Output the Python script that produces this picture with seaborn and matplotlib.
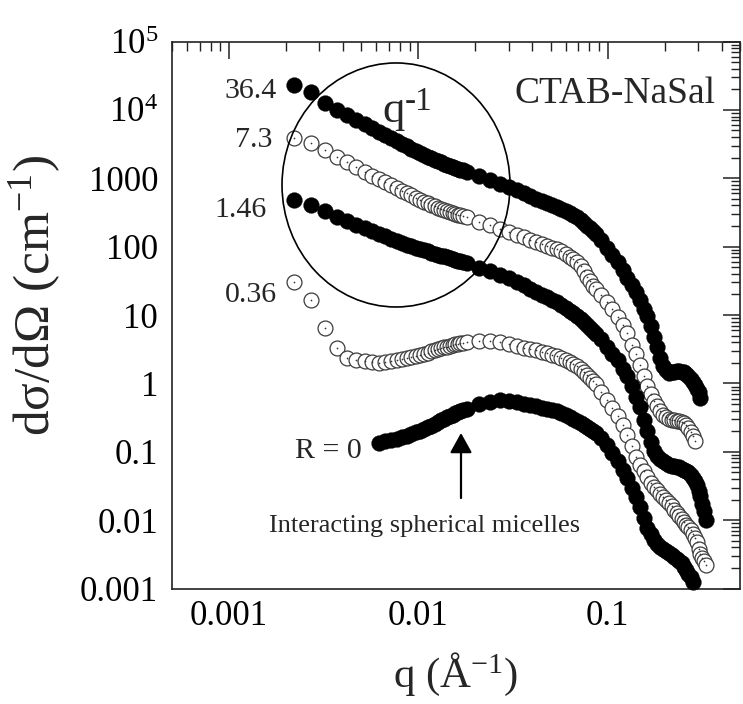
import numpy as np
import pandas as pd
import matplotlib
matplotlib.use("Agg")
import matplotlib.pyplot as plt
import seaborn as sns
from matplotlib.patches import Ellipse
from matplotlib.ticker import LogLocator, FixedLocator, FixedFormatter, NullFormatter

# ---------------- data ----------------
q_low = [0.0022, 0.0027, 0.0032, 0.0037, 0.0042, 0.0047, 0.0052, 0.0057, 0.0062, 0.0067,
         0.0072, 0.0077, 0.0082, 0.0087, 0.0092, 0.0097, 0.0102, 0.0107, 0.0112, 0.0117,
         0.0122, 0.0127, 0.0132, 0.0137, 0.0142, 0.0147, 0.0152, 0.0157, 0.0162, 0.0167, 0.0172]
q_mid = [0.018, 0.021, 0.024, 0.027, 0.030, 0.033, 0.036, 0.039, 0.042, 0.045, 0.048, 0.051,
         0.054, 0.057, 0.060, 0.063, 0.066, 0.069, 0.072, 0.075, 0.078, 0.081, 0.084, 0.087]
q_high = [0.092, 0.099, 0.106, 0.113, 0.120, 0.127, 0.134, 0.141, 0.148, 0.155, 0.162, 0.169,
          0.176, 0.183, 0.190, 0.197, 0.204, 0.211, 0.218, 0.225, 0.232, 0.239, 0.246, 0.253,
          0.260, 0.267, 0.274, 0.281, 0.288, 0.295, 0.302, 0.309, 0.316, 0.323, 0.330]

# R = 36.4 (filled)
i_364 = [23500, 18300, 12800, 10100, 8280, 7030, 6120, 5350, 4750, 4300, 3880, 3510, 3210, 2950,
         2720, 2520, 2330, 2190, 2080, 1970, 1870, 1780, 1700, 1630, 1560, 1500, 1450, 1410, 1370,
         1330, 1300,
         1245, 1080, 944, 834, 749, 674, 602, 547, 500, 463, 430, 402, 377, 352, 327, 306, 287, 270,
         248, 224, 203, 185, 169, 154,
         127, 96.7, 75.6, 60.2, 45.9, 35.1, 27.3, 21.5, 16.5, 12.3, 9.54, 6.84, 4.77, 3.36, 2.39,
         1.80, 1.58, 1.42, 1.45, 1.47, 1.50, 1.52, 1.49, 1.45, 1.38, 1.29, 1.16, 1.05, 0.935, 0.831,
         0.739, 0.614]
# R = 7.3 (open)
i_73 = [3830, 3280, 2550, 2050, 1720, 1470, 1245, 1095, 967, 868, 785, 717, 657, 606, 560, 520,
        485, 453, 428, 407, 388, 372, 357, 343, 330, 319, 310, 302, 294, 287, 280,
        269, 230, 205, 179, 162, 148, 136, 125, 117, 110, 102, 96.4, 91.3, 85.1, 76.9, 70.7, 65.0,
        59.7, 52.2, 43.4, 36.4, 30.9, 26.9, 23.7,
        19.7, 15.3, 12.2, 9.44, 7.21, 5.38, 3.59, 2.65, 1.86, 1.30, 0.919, 0.693, 0.555, 0.469,
        0.396, 0.346, 0.318, 0.298, 0.293, 0.288, 0.283, 0.283, 0.274, 0.265, 0.247, 0.224, 0.195,
        0.171, 0.144]
# R = 1.46 (filled)
i_146 = [477, 407, 328, 275, 238, 209, 187, 169, 154, 142, 131, 122, 114, 107, 102, 96.4, 91.9,
         88.3, 85.1, 82.0, 79.3, 76.6, 74.1, 71.9, 69.8, 67.9, 65.9, 64.1, 62.6, 61.0, 59.6,
         57.2, 49.5, 43.5, 38.7, 35.0, 30.8, 27.2, 24.3, 22.0, 19.9, 18.3, 16.8, 15.5, 14.1, 12.8,
         11.6, 10.6, 9.73, 8.80, 7.85, 7.05, 6.35, 5.74, 5.21,
         4.40, 3.41, 2.70, 2.18, 1.64, 1.29, 0.916, 0.635, 0.447, 0.289, 0.199, 0.137, 0.103,
         0.0862, 0.0777, 0.0724, 0.0677, 0.0641, 0.0628, 0.0618, 0.0608, 0.0592, 0.0568, 0.0547,
         0.0528, 0.0508, 0.0458, 0.0415, 0.0378, 0.0326, 0.0269, 0.0222, 0.0175, 0.0138, 0.0101]
# R = 0.36 (open)
i_036 = [30.1, 16.6, 6.48, 3.30, 2.36, 2.21, 2.09, 2.03, 1.99, 2.05, 2.12, 2.21, 2.28, 2.36, 2.42,
         2.52, 2.63, 2.73, 2.82, 2.95, 3.06, 3.16, 3.25, 3.35, 3.45, 3.55, 3.63, 3.72, 3.79, 3.87,
         3.92,
         3.98, 4.14, 4.15, 4.07, 3.78, 3.50, 3.30, 3.16, 3.03, 2.90, 2.75, 2.61, 2.48, 2.34, 2.17,
         2.03, 1.90, 1.79, 1.64, 1.47, 1.33, 1.21, 1.10, 0.983,
         0.759, 0.564, 0.433, 0.336, 0.247, 0.177, 0.122, 0.0834, 0.0645, 0.0521, 0.0427, 0.0352,
         0.0308, 0.0273, 0.0243, 0.0218, 0.0196, 0.0177, 0.0160, 0.0142, 0.0128, 0.0114, 0.0103,
         0.00938, 0.00854, 0.00782, 0.00712, 0.00626, 0.00553, 0.00483, 0.00374, 0.00323,
         0.00280, 0.00251, 0.00222]
# R = 0 (filled), starts at q = 0.0062
i_0 = [0.1345, 0.1419, 0.1493, 0.1560, 0.1640, 0.1725, 0.1809, 0.1915, 0.2034, 0.2154, 0.2282,
       0.2408, 0.2549, 0.2718, 0.2869, 0.3027, 0.3173, 0.3337, 0.3486, 0.3642, 0.3767, 0.3896,
       0.4030,
       0.4238, 0.498, 0.540, 0.568, 0.551, 0.526, 0.501, 0.480, 0.461, 0.441, 0.422, 0.404, 0.388,
       0.367, 0.340, 0.318, 0.299, 0.281, 0.263, 0.244, 0.227, 0.213, 0.199, 0.186,
       0.161, 0.124, 0.0970, 0.0743, 0.0545, 0.0407, 0.0299, 0.0218, 0.0155, 0.0106, 0.00762,
       0.00618, 0.00507, 0.00443, 0.00410, 0.00378, 0.00352, 0.00327, 0.00306, 0.00286, 0.00267,
       0.00251, 0.00234, 0.00208, 0.00184, 0.00165, 0.00146, 0.00124]

series_names = ["36.4", "7.3", "1.46", "0.36", "R = 0"]
series_filled = [True, False, True, False, True]

xtick_vals = [0.001, 0.01, 0.1]
xtick_labels = ["0.001", "0.01", "0.1"]
ytick_vals = [1e-3, 1e-2, 1e-1, 1, 10, 100, 1000, 1e4, 1e5]
ytick_labels = ["0.001", "0.01", "0.1", "1", "10", "100", "1000", "10$^4$", "10$^5$"]

# ---------------- build table ----------------
q_full = q_low + q_mid + q_high
q_from_0062 = q_low[8:] + q_mid + q_high
rows = []
for name, vals, qgrid in [("36.4", i_364, q_full), ("7.3", i_73, q_full), ("1.46", i_146, q_full),
                          ("0.36", i_036, q_full), ("R = 0", i_0, q_from_0062)]:
    for qq, ii in zip(qgrid[:len(vals)], vals):
        rows.append((name, qq, ii))
df = pd.DataFrame(rows, columns=["series", "q", "I"])

# ---------------- style ----------------
sns.set_style("white")
plt.rcParams["font.family"] = ["Liberation Serif", "DejaVu Serif"]
plt.rcParams["mathtext.fontset"] = "custom"
plt.rcParams["mathtext.rm"] = "Liberation Serif"
plt.rcParams["mathtext.it"] = "Liberation Serif:italic"
plt.rcParams["mathtext.bf"] = "Liberation Serif:bold"

fig = plt.figure(figsize=(7.43, 7.04), dpi=100)
ax = fig.add_axes([172 / 743, 1 - 588.5 / 704, 568 / 743, 547 / 704])
ax.set_xscale("log")
ax.set_yscale("log")

for name, filled in zip(series_names, series_filled):
    sub = df[df["series"] == name]
    if filled:
        sns.scatterplot(data=sub, x="q", y="I", ax=ax, s=130, color="black",
                        edgecolor="black", linewidth=0.2, legend=False, zorder=3)
    else:
        sns.scatterplot(data=sub, x="q", y="I", ax=ax, s=115, color="white",
                        edgecolor="#3c3c3c", linewidth=0.9, legend=False, zorder=3)
        sns.scatterplot(data=sub, x="q", y="I", ax=ax, s=1.5, color="#333333",
                        linewidth=0, legend=False, zorder=3)

for coll in ax.collections:
    coll.set_clip_on(False)

ax.set_xlim(5e-4, 0.5)
ax.set_ylim(1e-3, 1e5)
ax.set_xlabel("")
ax.set_ylabel("")

ax.xaxis.set_major_locator(FixedLocator(xtick_vals))
ax.xaxis.set_major_formatter(FixedFormatter(xtick_labels))
ax.xaxis.set_minor_locator(LogLocator(base=10, subs=np.arange(2, 10), numticks=60))
ax.xaxis.set_minor_formatter(NullFormatter())
ax.yaxis.set_major_locator(FixedLocator(ytick_vals))
ax.yaxis.set_major_formatter(FixedFormatter(ytick_labels))
ax.yaxis.set_minor_locator(LogLocator(base=10, subs=np.arange(2, 10), numticks=60))
ax.yaxis.set_minor_formatter(NullFormatter())

ax.tick_params(which="major", direction="in", length=12, width=1.1, top=True, right=True,
               labelsize=25, colors="#222222", labelcolor="black")
ax.tick_params(axis="y", which="major", pad=10)
ax.tick_params(axis="x", which="major", pad=8)
ax.tick_params(which="minor", direction="in", length=6.3, width=1.0, top=True, right=True,
               colors="#222222")
for sp in ax.spines.values():
    sp.set_linewidth(1.2)
    sp.set_color("#222222")

# ---------------- annotations ----------------
tr = ax.transAxes
ax.text(0.1849, 0.8962, "36.4", transform=tr, ha="right", va="baseline", fontsize=21.5)
ax.text(0.1761, 0.8077, "7.3", transform=tr, ha="right", va="baseline", fontsize=21.5)
ax.text(0.1673, 0.6797, "1.46", transform=tr, ha="right", va="baseline", fontsize=21.5)
ax.text(0.1849, 0.5243, "0.36", transform=tr, ha="right", va="baseline", fontsize=21.5)
ax.text(0.3345, 0.2380, "R = 0", transform=tr, ha="right", va="baseline", fontsize=21.5)
ax.text(0.4454, 0.1038, "Interacting spherical micelles", transform=tr, ha="center",
        va="baseline", fontsize=19)
ax.text(0.956, 0.887, "CTAB-NaSal", transform=tr, ha="right", va="baseline", fontsize=27)
ax.text(0.3697, 0.853, "q", transform=tr, ha="left", va="baseline", fontsize=32)
ax.text(0.409, 0.8748, "-1", transform=tr, ha="left", va="baseline", fontsize=24)

ell = Ellipse((0.3944, 0.7377), 0.4014, 0.4461, transform=tr, fill=False, lw=1.2,
              ec="black", zorder=10)
ax.add_patch(ell)

ax.annotate("", xy=(0.5088, 0.2843), xytext=(0.5088, 0.1654), xycoords=tr, textcoords=tr,
            arrowprops=dict(arrowstyle="-|>,head_length=0.45,head_width=0.25",
                            mutation_scale=27, lw=1.6, color="black",
                            shrinkA=0, shrinkB=0))

fig.text(0.047, 0.5795, "dσ/dΩ (cm$^{-1}$)", rotation=90, ha="center", va="center",
         fontsize=37)
fig.text(456 / 743, 0.024, "q (Å$^{-1}$)", ha="center", va="baseline", fontsize=31)

fig.savefig("out.png", dpi=100)
